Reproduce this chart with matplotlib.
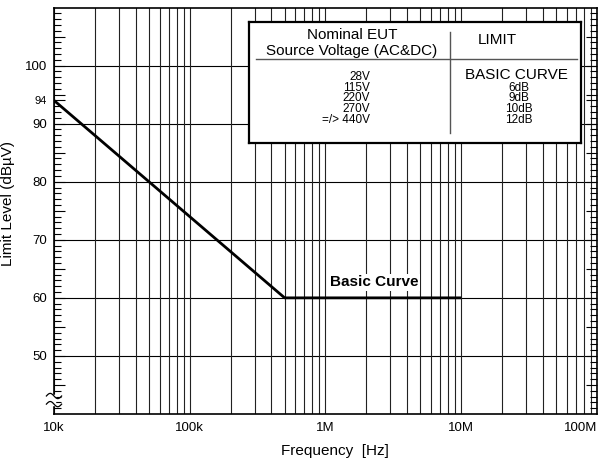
import matplotlib
matplotlib.use("Agg")
import matplotlib.pyplot as plt
import numpy as np
from matplotlib.ticker import FixedLocator, FuncFormatter, NullFormatter, LogLocator

plt.rcParams["font.family"] = ["Liberation Sans", "DejaVu Sans"]

# basic limit curve
freq_hz = [1e4, 5e5, 1e7]
level_dbuv = [94, 60, 60]

x_ticks = [1e4, 1e5, 1e6, 1e7, 1e8]
x_labels = ["10k", "100k", "1M", "10M", "100M"]
y_labels = [50, 60, 70, 80, 90, 94, 100]

# nominal voltage table
voltages = ["28V", "115V", "220V", "270V", "=/> 440V"]
limits = ["BASIC CURVE", "6dB", "9dB", "10dB", "12dB"]

fig = plt.figure(figsize=(5.98, 4.59), dpi=100)
ax = fig.add_axes([54 / 598, 45 / 459, 543 / 598, 406.5 / 459])

ax.plot(freq_hz, level_dbuv, color="black", lw=2, solid_capstyle="butt", zorder=4)
ax.set_xscale("log")
ax.set_xlim(1e4, 1e8)
ax.set_ylim(40, 110)

# x axis: decade labels, gridlines on every minor position
ax.xaxis.set_major_locator(FixedLocator(x_ticks))
ax.set_xticklabels(x_labels)
ax.xaxis.set_minor_locator(LogLocator(base=10, subs=np.arange(2, 10)))
ax.xaxis.set_minor_formatter(NullFormatter())
ax.tick_params(axis="x", which="both", length=0, pad=6, labelsize=9.5)
ax.get_xticklabels()[-1].set_horizontalalignment("right")
ax.grid(True, axis="x", which="both", color="#222222", lw=0.8)

# y axis: labelled at tens plus 94, ticks every 1 and 5 dB
major_y = sorted(set(list(range(45, 110, 5)) + [94]))
ax.yaxis.set_major_locator(FixedLocator(major_y))
ax.yaxis.set_major_formatter(
    FuncFormatter(lambda v, pos: f"{int(v)}" if int(v) in y_labels else "")
)
ax.yaxis.set_minor_locator(FixedLocator(np.arange(41, 110, 1)))
ax.tick_params(axis="y", which="major", direction="in", length=8, width=0.8,
               left=True, right=True, labelsize=9.5, pad=5)
ax.tick_params(axis="y", which="minor", direction="in", length=5, width=0.8,
               left=True, right=True)
for lbl in ax.get_yticklabels():
    if lbl.get_text() == "94":
        lbl.set_fontsize(8)
for v in range(50, 110, 10):
    ax.axhline(v, color="black", lw=0.8, zorder=1)

for s in ax.spines.values():
    s.set_linewidth(1.2)

ax.set_xlabel("Frequency  [Hz]", fontsize=11)
ax.xaxis.set_label_coords(0.518, -0.073)
ax.set_ylabel("Limit Level (dBµV)", fontsize=11)
ax.yaxis.set_label_coords(-0.072, 0.518)

ax.text(2.3e6, 62.7, "Basic Curve", fontsize=11, fontweight="bold",
        ha="center", va="center", zorder=5,
        bbox=dict(facecolor="white", edgecolor="none", pad=1))

# axis break mark on the left spine
yb = [43.1, 41.7]
ax.plot([0, 0], yb, color="white", lw=2.5, transform=ax.get_yaxis_transform(),
        clip_on=False, zorder=6)
t = np.linspace(0, 1, 30)
for yc in yb:
    xs = -0.014 + 0.028 * t
    ys = yc + 0.45 * np.sin(2 * np.pi * t)
    ax.plot(xs, ys, color="black", lw=0.9, transform=ax.get_yaxis_transform(),
            clip_on=False, zorder=7)

# voltage / limit table
tb = fig.add_axes([249 / 598, (459 - 143) / 459, 332 / 598, 121 / 459])
tb.set_xlim(0, 1)
tb.set_ylim(0, 1)
tb.set_xticks([])
tb.set_yticks([])
tb.set_facecolor("white")
for s in tb.spines.values():
    s.set_linewidth(1.6)
tb.plot([0.021, 0.988], [0.694, 0.694], color="#555555", lw=1)
tb.plot([0.605, 0.605], [0.083, 0.920], color="#555555", lw=1)
tb.text(0.310, 0.893, "Nominal EUT", fontsize=11, ha="center", va="center")
tb.text(0.310, 0.763, "Source Voltage (AC&DC)", fontsize=11, ha="center", va="center")
tb.text(0.747, 0.851, "LIMIT", fontsize=11, ha="center", va="center")
v_rows = [0.548, 0.458, 0.368, 0.278, 0.188]
for yv, vt in zip(v_rows, voltages):
    tb.text(0.364, yv, vt, fontsize=8.5, ha="right", va="center")
l_rows = [0.562, 0.458, 0.368, 0.278, 0.188]
for i, (yv, lt) in enumerate(zip(l_rows, limits)):
    if i == 0:
        tb.text(0.807, yv, lt, fontsize=11, ha="center", va="center")
    else:
        tb.text(0.813, yv, lt, fontsize=8.5, ha="center", va="center")

fig.savefig("out.png", dpi=100)
